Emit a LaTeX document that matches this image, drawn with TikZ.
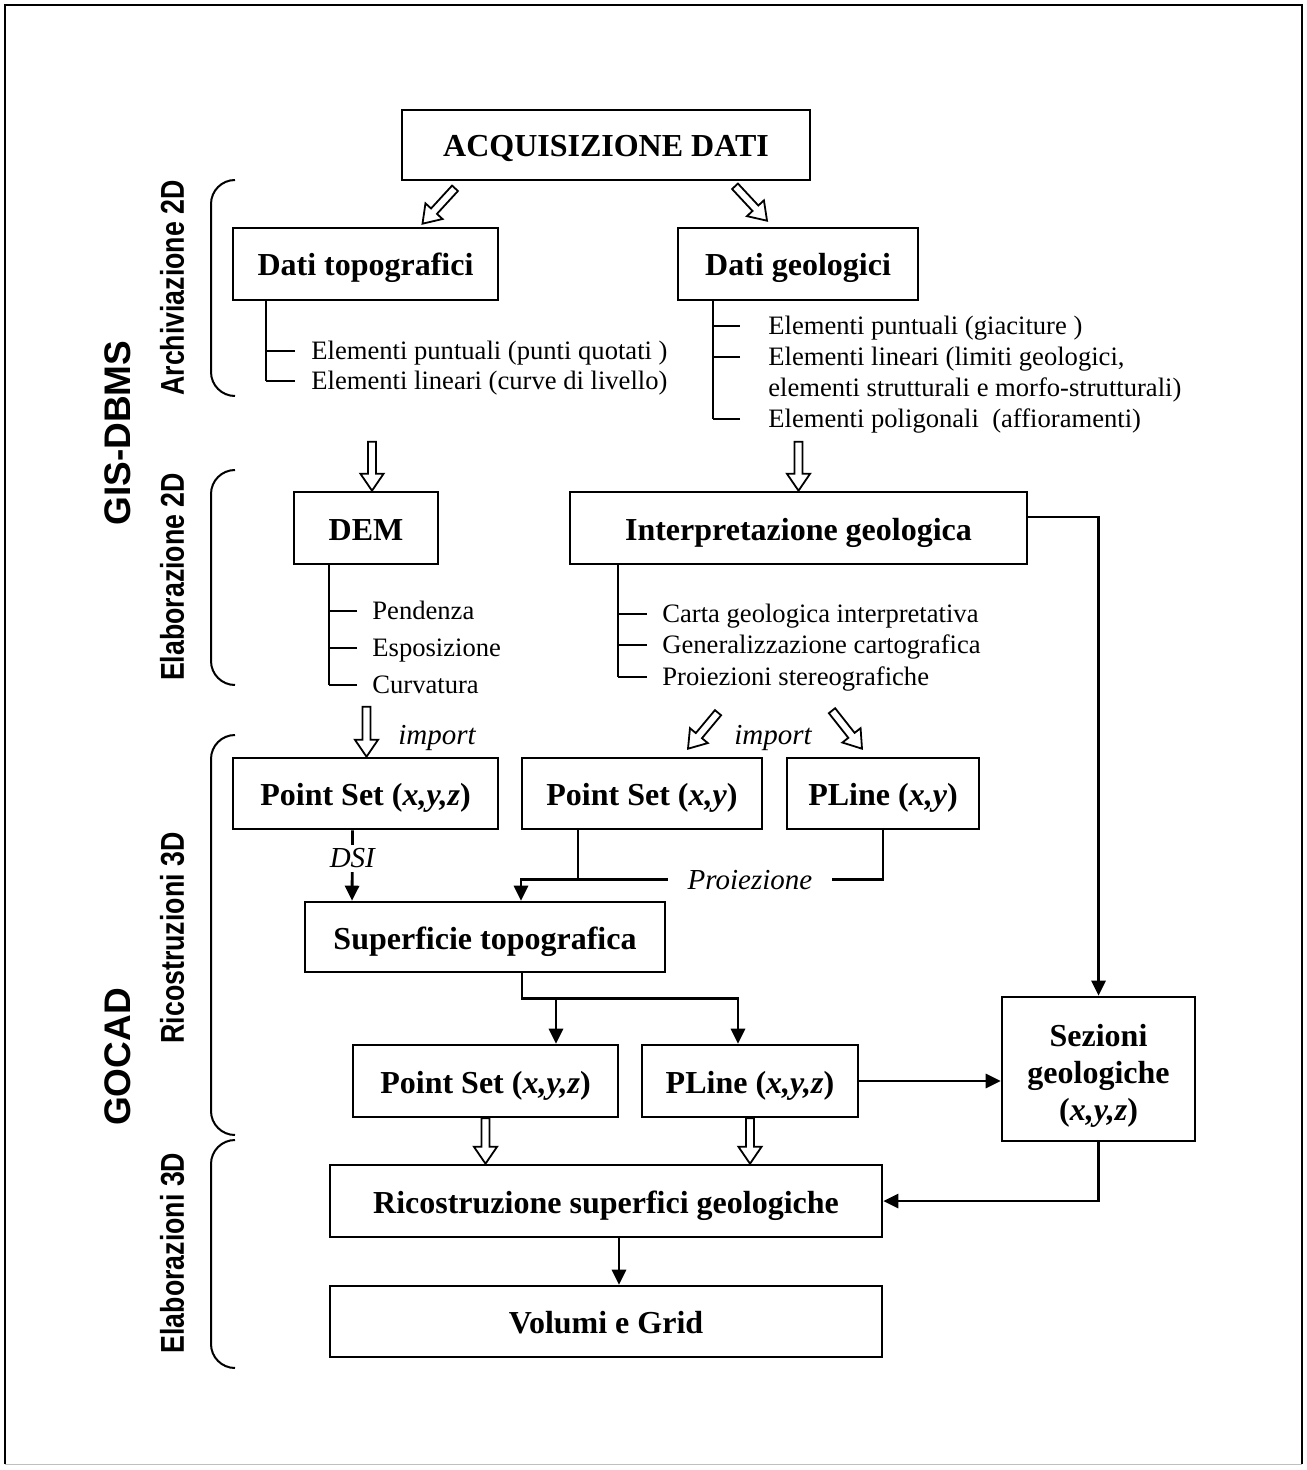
\documentclass[tikz,border=0pt]{standalone}
\usepackage{fontspec}
\setmainfont{Liberation Serif}
\newfontfamily\narrowsans[FakeStretch=0.81]{Liberation Sans}
\newfontfamily\headsans{Liberation Sans}
\usetikzlibrary{arrows.meta,calc}

\tikzset{
  box/.style={rectangle,draw,line width=1.3pt,inner sep=0pt,align=center,text height=14pt,text depth=2pt,font=\bfseries\fontsize{16}{18.5}\selectfont},
  item/.style={anchor=west,inner sep=0pt,text height=10.5pt,text depth=2pt,font=\fontsize{13.3}{15}\selectfont},
  lab/.style={inner sep=1pt,font=\itshape\fontsize{14.5}{17}\selectfont},
  phase/.style={rotate=90,inner sep=0pt,font=\narrowsans\bfseries\fontsize{16.5}{19}\selectfont},
  tool/.style={rotate=90,inner sep=0pt,font=\headsans\bfseries\fontsize{18.5}{21}\selectfont},
  link/.style={line width=1.4pt},
  flow/.style={link,-{Triangle[length=7.5pt,width=7pt]}},
  tree/.style={line width=0.9pt},
  brace/.style={line width=1pt,rounded corners=12pt},
  hollow/.style={draw,fill=white,line width=0.9pt,line join=miter,
    to path={($(\tikztostart)!2pt!90:(\tikztotarget)$)
      -- ($(\tikztotarget)!8.5pt!(\tikztostart)!2pt!90:(\tikztotarget)$)
      -- ($(\tikztotarget)!8.5pt!(\tikztostart)!5.8pt!90:(\tikztotarget)$)
      -- (\tikztotarget)
      -- ($(\tikztotarget)!8.5pt!(\tikztostart)!5.8pt!-90:(\tikztotarget)$)
      -- ($(\tikztotarget)!8.5pt!(\tikztostart)!2pt!-90:(\tikztotarget)$)
      -- ($(\tikztostart)!2pt!-90:(\tikztotarget)$) -- cycle}}
}

\begin{document}
\begin{tikzpicture}[x=0.5pt,y=-0.5pt]
\useasboundingbox (0,0) rectangle (1306,1470);
\draw[line width=1.2pt] (5,1464) -- (5,5) -- (1302,5) -- (1302,1464);
\draw[black!25] (5,1464) -- (1302,1464);

\draw (606,145)node[box,minimum width=204pt,minimum height=35pt](acq){ACQUISIZIONE DATI};
\draw (365.5,264)node[box,minimum width=132.5pt,minimum height=36pt](dtopo){Dati topografici};
\draw (798,264)node[box,minimum width=120pt,minimum height=36pt](dgeo){Dati geologici};
\draw (366,528)node[box,minimum width=72pt,minimum height=36pt](dem){DEM};
\draw (798.5,528)node[box,minimum width=228.5pt,minimum height=36pt](interp){Interpretazione geologica};
\draw (365.5,793.5)node[box,minimum width=132.5pt,minimum height=35.5pt](ps3){Point Set (\textit{x,y,z})};
\draw (642,793.5)node[box,minimum width=120pt,minimum height=35.5pt](ps2){Point Set (\textit{x,y})};
\draw (883,793.5)node[box,minimum width=96pt,minimum height=35.5pt](pl2){PLine (\textit{x,y})};
\draw (485,937)node[box,minimum width=180pt,minimum height=35pt](sup){Superficie topografica};
\draw (485.5,1081)node[box,minimum width=132.5pt,minimum height=36pt](ps3b){Point Set (\textit{x,y,z})};
\draw (750,1081)node[box,minimum width=108pt,minimum height=36pt](pl3){PLine (\textit{x,y,z})};
\draw (1098.5,1069)node[box,text height={},text depth={},minimum width=96.5pt,minimum height=72pt](sez){\rule{0pt}{18pt}Sezioni\\geologiche\\(\textit{x,y,z})};
\draw (606,1201)node[box,minimum width=276pt,minimum height=36pt](ric){Ricostruzione superfici geologiche};
\draw (606,1321.5)node[box,minimum width=276pt,minimum height=35.5pt](vol){Volumi e Grid};

\draw (311,351)node[item](tp1){Elementi puntuali (punti quotati )};
\draw (311,381)node[item](tp2){Elementi lineari (curve di livello)};
\draw (768,326)node[item](gp1){Elementi puntuali (giaciture )};
\draw (768,357)node[item](gp2){Elementi lineari (limiti geologici,};
\draw (768,388)node[item](gp3){elementi strutturali e morfo-strutturali)};
\draw (768,419)node[item](gp4){Elementi poligonali\ \ (affioramenti)};
\draw (372,611)node[item](dm1){Pendenza};
\draw (372,648)node[item](dm2){Esposizione};
\draw (372,685)node[item](dm3){Curvatura};
\draw (662,614)node[item](ig1){Carta geologica interpretativa};
\draw (662,645)node[item](ig2){Generalizzazione cartografica};
\draw (662,677)node[item](ig3){Proiezioni stereografiche};

\coordinate (trA) at ([shift={(34,0)}]dtopo.south west);
\coordinate (trB) at ([shift={(36,0)}]dgeo.south west);
\coordinate (trC) at ([shift={(36,0)}]dem.south west);
\coordinate (trD) at ([shift={(49,0)}]interp.south west);
\draw[tree] (trA) -- (trA |- tp2.west);
\draw[tree] (trB) -- (trB |- gp4.west);
\draw[tree] (trC) -- (trC |- dm3.west);
\draw[tree] (trD) -- (trD |- ig3.west);
\foreach \n in {tp1,tp2} \draw[tree] ([xshift=-8pt]\n.west) -- (\n.west -| trA);
\foreach \n in {gp1,gp2,gp4} \draw[tree] ([xshift=-14pt]\n.west) -- (\n.west -| trB);
\foreach \n in {dm1,dm2,dm3} \draw[tree] ([xshift=-7.5pt]\n.west) -- (\n.west -| trC);
\foreach \n in {ig1,ig2,ig3} \draw[tree] ([xshift=-7.5pt]\n.west) -- (\n.west -| trD);

\draw[brace] (235,180) -- (211,180) -- (211,396) -- (235,396);
\draw[brace] (235,470) -- (211,470) -- (211,685) -- (235,685);
\draw[brace] (235,735) -- (211,735) -- (211,1135) -- (235,1135);
\draw[brace] (235,1140) -- (211,1140) -- (211,1368) -- (235,1368);
\draw (172,288)node[phase](arch){Archiviazione 2D};
\draw (172,577)node[phase](elab2){Elaborazione 2D};
\draw (172,938)node[phase](ric3){Ricostruzioni 3D};
\draw (172,1253)node[phase](elab3){Elaborazioni 3D};
\draw (118,433)node[tool](gis){GIS-DBMS};
\draw (118,1057)node[tool](gocad){GOCAD};

\draw[hollow] ([shift={(-151,7)}]acq.south) to ([shift={(57,-3)}]dtopo.north);
\draw[hollow] ([shift={(129,5)}]acq.south) to ([shift={(-31,-6)}]dgeo.north);
\draw[hollow] ([shift={(6,-49)}]dem.north) to ([shift={(6,0)}]dem.north);
\draw[hollow] ([shift={(0,-49)}]interp.north) to (interp.north);
\draw[hollow] ([shift={(1,-50)}]ps3.north) to ([shift={(1,0)}]ps3.north);
\draw[hollow] ([shift={(76,-44)}]ps2.north) to ([shift={(46,-8)}]ps2.north);
\draw[hollow] ([shift={(-51,-46)}]pl2.north) to ([shift={(-21,-8)}]pl2.north);
\draw[hollow] (ps3b.south) to (ps3b.south |- ric.north);
\draw[hollow] (pl3.south) to (pl3.south |- ric.north);
\draw (437,738)node[lab](imp1){import};
\draw (773,738)node[lab](imp2){import};

\draw[flow] ([shift={(-13,0)}]ps3.south) -- node[lab,fill=white,pos=0.4,inner sep=2pt](dsi){DSI} ([shift={(-133,0)}]sup.north);
\coordinate (psout) at ([shift={(-64,0)}]ps2.south);
\coordinate (proj) at ([shift={(0,49)}]psout);
\coordinate (supin) at ([shift={(36,0)}]sup.north);
\draw[flow] (pl2.south) |- (supin |- proj) -- (supin);
\draw[link] (psout) -- (proj);
\draw (750,880)node[lab,fill=white,inner xsep=10pt](prj){Proiezione};

\coordinate (fork) at ([shift={(37,25)}]sup.south);
\coordinate (psin) at ([shift={(70.5,0)}]ps3b.north);
\coordinate (plin) at ([shift={(-12,0)}]pl3.north);
\draw[flow] ([shift={(37,0)}]sup.south) |- (plin |- fork) -- (plin);
\draw[flow] (psin |- fork) -- (psin);

\draw[flow] ([shift={(0,-11)}]interp.east) -| (sez.north);
\draw[flow] (pl3.east) -- (pl3.east -| sez.west);
\draw[flow] (sez.south) |- (ric.east);
\draw[flow] ([shift={(13,0)}]ric.south) -- ([shift={(13,0)}]vol.north);
\end{tikzpicture}
\end{document}
